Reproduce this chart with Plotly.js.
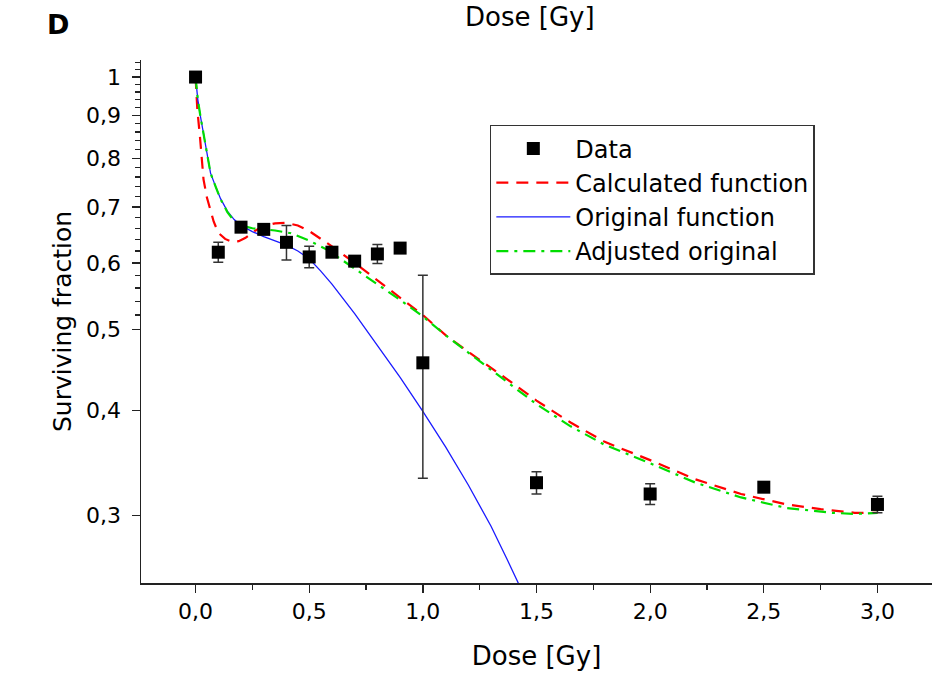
<!DOCTYPE html>
<html>
<head>
<meta charset="utf-8">
<script src="https://cdn.plot.ly/plotly-3.0.1.min.js"></script>
<style>html,body{margin:0;padding:0;background:#fff;}#chart{width:936px;height:678px;}</style>
</head>
<body>
<div id="chart"></div>
<script>
// Measured data points
const dataDose = [0, 0.1, 0.2, 0.3, 0.4, 0.5, 0.6, 0.7, 0.8, 0.9, 1.0, 1.5, 2.0, 2.5, 3.0];
const dataSF   = [1.0, 0.618, 0.662, 0.658, 0.635, 0.610, 0.618, 0.603, 0.615, 0.625, 0.456, 0.328, 0.318, 0.324, 0.309];
const dataErr  = [0, 0.017, 0.005, 0.005, 0.030, 0.018, 0.004, 0.005, 0.016, 0.003, 0.124, 0.010, 0.009, 0.003, 0.007];

// Calculated function (red dashed)
const calcDose = [0, 0.008, 0.02, 0.035, 0.05, 0.065, 0.08, 0.1, 0.13, 0.16, 0.19, 0.22, 0.26, 0.3, 0.35, 0.4, 0.45, 0.5, 0.55, 0.6, 0.7, 0.8, 0.9, 1.0, 1.1, 1.2, 1.35, 1.5, 1.65, 1.8, 2.0, 2.2, 2.4, 2.6, 2.75, 2.9, 3.0];
const calcSF   = [1.0, 0.913, 0.845, 0.755, 0.718, 0.694, 0.672, 0.652, 0.641, 0.636, 0.637, 0.643, 0.655, 0.664, 0.669, 0.670, 0.665, 0.655, 0.642, 0.628, 0.600, 0.572, 0.545, 0.520, 0.492, 0.470, 0.440, 0.411, 0.387, 0.367, 0.349, 0.331, 0.318, 0.309, 0.305, 0.302, 0.302];

// Original function (blue solid)
const origDose = [0, 0.01, 0.022, 0.044, 0.066, 0.09, 0.11, 0.14, 0.17, 0.2, 0.25, 0.3, 0.35, 0.4, 0.45, 0.5, 0.55, 0.6, 0.7, 0.8, 0.9, 1.0, 1.1, 1.2, 1.3, 1.37, 1.42, 1.46];
const origSF   = [1.0, 0.94, 0.896, 0.825, 0.768, 0.738, 0.716, 0.692, 0.676, 0.665, 0.654, 0.645, 0.638, 0.630, 0.620, 0.607, 0.587, 0.566, 0.522, 0.479, 0.438, 0.399, 0.362, 0.326, 0.291, 0.266, 0.249, 0.236];

// Adjusted original (green dash-dot)
const adjDose = [0, 0.01, 0.022, 0.044, 0.066, 0.09, 0.11, 0.14, 0.17, 0.2, 0.25, 0.3, 0.35, 0.42, 0.5, 0.58, 0.68, 0.8, 0.9, 1.0, 1.1, 1.2, 1.35, 1.5, 1.65, 1.8, 2.0, 2.2, 2.4, 2.6, 2.8, 2.9, 3.0];
const adjSF   = [1.0, 0.94, 0.896, 0.825, 0.768, 0.738, 0.715, 0.690, 0.673, 0.665, 0.660, 0.658, 0.656, 0.651, 0.638, 0.622, 0.596, 0.565, 0.542, 0.518, 0.492, 0.469, 0.437, 0.407, 0.383, 0.364, 0.346, 0.328, 0.315, 0.306, 0.302, 0.301, 0.302];

// Tick labels
const xTickVals = [0, 0.5, 1.0, 1.5, 2.0, 2.5, 3.0];
const xTickText = ["0,0", "0,5", "1,0", "1,5", "2,0", "2,5", "3,0"];
const yTickVals = [0.3, 0.4, 0.5, 0.6, 0.7, 0.8, 0.9, 1.0];
const yTickText = ["0,3", "0,4", "0,5", "0,6", "0,7", "0,8", "0,9", "1"];
const yMinorVals = [];
for (let i = 25; i <= 52; i++) { yMinorVals.push(i * 0.02); }
const xMinorVals = [-0.25, 0.25, 0.75, 1.25, 1.75, 2.25, 2.75, 3.25];

const FONT = "'DejaVu Sans', Arial, sans-serif";

const traces = [
  {x: calcDose, y: calcSF, mode: 'lines', name: 'Calculated function', legendrank: 2,
   line: {color: '#ff0000', width: 2.2, dash: '12px,8px'}},
  {x: origDose, y: origSF, mode: 'lines', name: 'Original function', legendrank: 3,
   line: {color: '#1a1aff', width: 1.3}},
  {x: adjDose, y: adjSF, mode: 'lines', name: 'Adjusted original', legendrank: 4,
   line: {color: '#00dd00', width: 2.2, dash: '12px,6px,3px,6px'}},
  {x: dataDose, y: dataSF, mode: 'markers', name: 'Data', legendrank: 1,
   marker: {symbol: 'square', size: 13, color: '#000000'},
   error_y: {type: 'data', array: dataErr, visible: true, color: '#333333', thickness: 1.5, width: 5}}
];

const layout = {
  width: 936, height: 678,
  margin: {l: 141, r: 4, t: 60, b: 95},
  paper_bgcolor: '#ffffff', plot_bgcolor: '#ffffff',
  font: {family: FONT, color: '#000000'},
  showlegend: true,
  legend: {x: 0.441, y: 0.876, xanchor: 'left', yanchor: 'top',
    bgcolor: '#ffffff', bordercolor: '#333333', borderwidth: 1.5,
    font: {family: FONT, size: 24, color: '#000'}, itemwidth: 74, tracegroupgap: 0},
  xaxis: {
    range: [-0.24, 3.24], showgrid: false, zeroline: false,
    showline: true, linecolor: '#222', linewidth: 1.5, mirror: false,
    ticks: 'outside', ticklen: 8, tickwidth: 1.3, tickcolor: '#222',
    tickmode: 'array', tickvals: xTickVals, ticktext: xTickText,
    tickfont: {family: FONT, size: 22, color: '#000'},
    minor: {tickmode: 'array', tickvals: xMinorVals, ticks: 'outside', ticklen: 5, tickwidth: 1.2, tickcolor: '#222'},
    title: {text: 'Dose [Gy]', font: {family: FONT, size: 26, color: '#000'}, standoff: 24}
  },
  yaxis: {
    type: 'log', range: [Math.log10(0.249), Math.log10(1.048)],
    showgrid: false, zeroline: false,
    showline: true, linecolor: '#222', linewidth: 1.5, mirror: false,
    ticks: 'outside', ticklen: 8, tickwidth: 1.3, tickcolor: '#222',
    tickmode: 'array', tickvals: yTickVals, ticktext: yTickText,
    ticklabelstandoff: 6,
    tickfont: {family: FONT, size: 22, color: '#000'},
    minor: {tickmode: 'array', tickvals: yMinorVals, ticks: 'outside', ticklen: 5, tickwidth: 1.2, tickcolor: '#222'},
    title: {text: 'Surviving fraction', font: {family: FONT, size: 25, color: '#000'}, standoff: 7}
  },
  annotations: [
    {text: '<b>D</b>', xref: 'paper', yref: 'paper', x: -0.121, y: 1.067, xanchor: 'left', yanchor: 'middle',
     showarrow: false, font: {family: FONT, size: 27, color: '#000'}},
    {text: 'Dose [Gy]', xref: 'paper', yref: 'paper', x: 0.492, y: 1.115, xanchor: 'center', yanchor: 'top',
     showarrow: false, font: {family: FONT, size: 26, color: '#000'}}
  ]
};

Plotly.newPlot('chart', traces, layout, {displayModeBar: false, staticPlot: true});
</script>
</body>
</html>
